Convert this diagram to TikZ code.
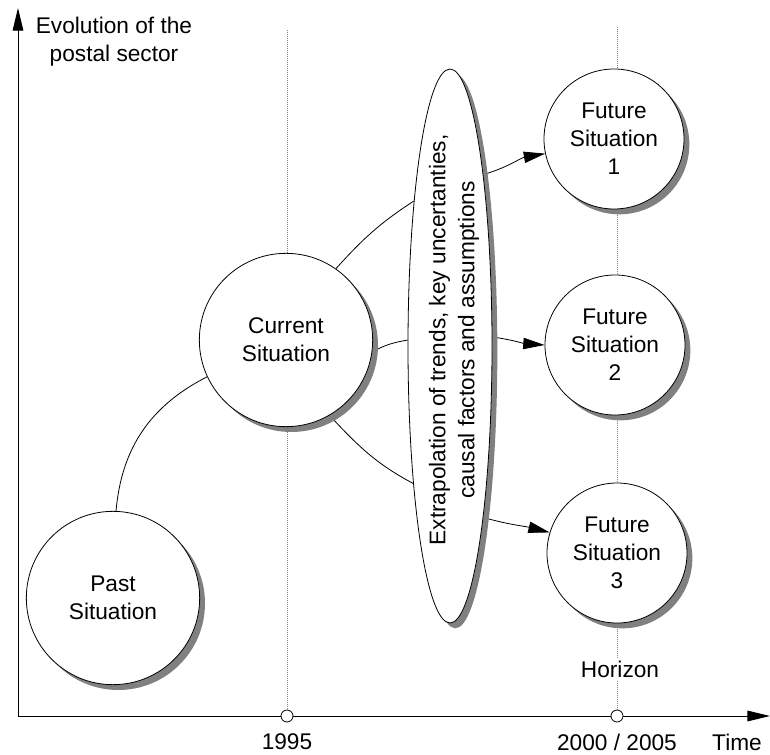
\documentclass[tikz,border=0pt]{standalone}
\usepackage{fontspec}
\setmainfont{Liberation Sans}
\usetikzlibrary{shapes.geometric, shadows, arrows.meta, backgrounds}

\definecolor{shadowgray}{RGB}{128,128,128}

\tikzset{
  txt/.style={font=\fontsize{17}{21}\selectfont, align=center, inner sep=0pt},
  shadowed/.style={drop shadow={shadow xshift=4pt, shadow yshift=-4pt, fill=shadowgray, opacity=1}},
  situation/.style={circle, draw, line width=0.6pt, fill=white, shadowed, txt},
  bigsit/.style={situation, minimum size=130pt},
  futsit/.style={situation, minimum size=105pt},
  scenario/.style={ellipse, draw, line width=0.6pt, fill=white, shadowed, inner sep=0pt,
    minimum width=63pt, minimum height=415.5pt},
  axis/.style={line width=0.7pt, -{Triangle[length=17pt, width=8pt]}},
  guide/.style={densely dotted, gray, line width=0.5pt},
  tick/.style={circle, draw, line width=0.6pt, fill=white, minimum size=9pt, inner sep=0pt},
  link/.style={line width=0.6pt},
  flow/.style={line width=0.6pt, -{Triangle[length=16pt, width=8.5pt]}}
}

\begin{document}
\begin{tikzpicture}[x=0.75pt, y=-0.75pt]
  \useasboundingbox (0,0) rectangle (770,755);

  % axes and time marks
  \coordinate (origin) at (18,716);
  \coordinate (ytop) at (18,8);
  \coordinate (xend) at (770,716);
  \node[tick] (t1995) at (287,716) {};
  \node[tick] (t2000) at (617,716) {};
  \coordinate (g1995) at (287,30);
  \coordinate (g2000) at (617,27);

  \node[txt] (ylabel) at (114,42) {Evolution of the\\postal sector};
  \node[txt] (l1995) at (287,742) {1995};
  \node[txt] (l2000) at (617,742) {2000 / 2005};
  \node[txt] (ltime) at (737,742) {Time};
  \node[txt, fill=white, inner sep=2pt] (horizon) at (620,669) {Horizon};

  % situations
  \node[bigsit] (past) at (113,598) {Past\\Situation};
  \node[bigsit] (cur) at (286,340) {Current\\Situation};
  \node[scenario] (ell) at (450,346) {};
  \node[txt, rotate=90, font=\fontsize{17}{21.75}\selectfont] (elltext) at (454,340)
    {Extrapolation of trends, key uncertanties,\\causal factors and assumptions};
  \node[futsit] (f1) at (614,139) {Future\\Situation\\1};
  \node[futsit] (f2) at (615,345) {Future\\Situation\\2};
  \node[futsit] (f3) at (617,553) {Future\\Situation\\3};

  \begin{scope}[on background layer]
    \draw[guide] (g1995) -- (t1995);
    \draw[guide] (g2000) -- (t2000);
    \draw[axis] (origin) -- (ytop);
    \draw[axis] (origin) -- (xend);

    \draw[link] (past.88) to[out=85, in=207] (cur.205);
    \draw[link] (cur.55) to[out=48, in=213] (ell.104.5);
    \draw[link] (cur.-8) to[out=30, in=190] (ell.172);
    \draw[link] (cur.-60) to[out=-47, in=152] (ell.255.4);

    \draw[flow] (ell.79.2) to[out=16, in=190] (f1.192);
    \draw[flow] (ell.12) to[out=-8, in=176] (f2.180);
    \draw[flow] (ell.-79) to[out=-16, in=166] (f3.163);
  \end{scope}
\end{tikzpicture}
\end{document}
